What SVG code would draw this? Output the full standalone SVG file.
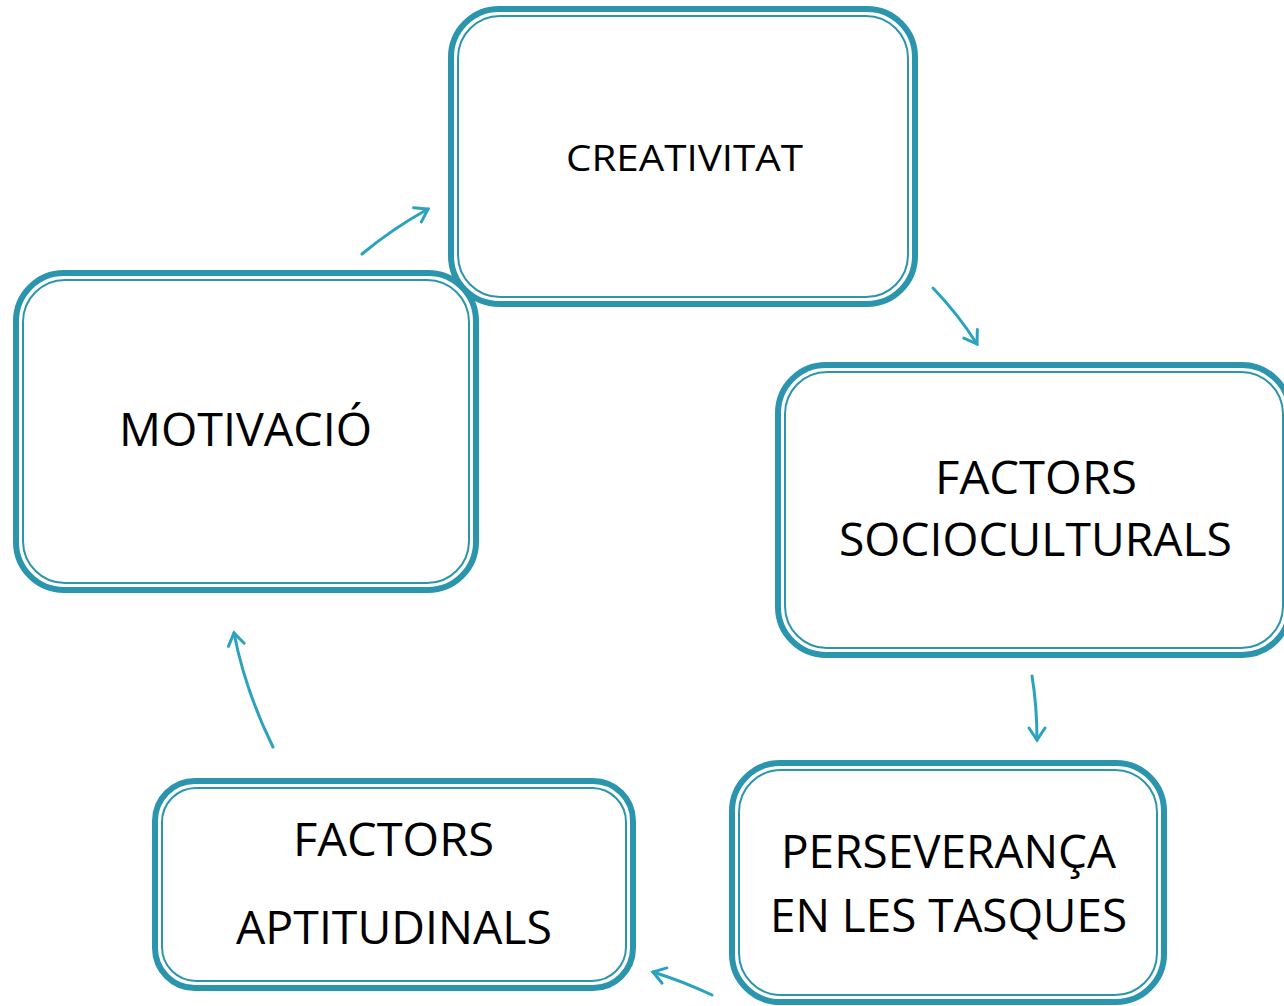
<svg xmlns="http://www.w3.org/2000/svg" width="1284" height="1006" viewBox="0 0 1284 1006">
<defs>
<style>
.outer{fill:#fff;stroke:#2b95ad;stroke-width:6}
.inner{fill:none;stroke:#2b95ad;stroke-width:2}
.lbl{font-family:"Open Sans","Noto Sans","DejaVu Sans",sans-serif;fill:#000;text-anchor:middle}
.con{fill:none;stroke:#2ba3bf;stroke-width:3;stroke-linecap:round}
</style>
<marker id="ah" markerUnits="userSpaceOnUse" markerWidth="24" markerHeight="24" refX="14" refY="9" orient="auto" viewBox="0 0 24 18">
<path d="M2,1 L14,9 L2,17" fill="none" stroke="#2ba3bf" stroke-width="3" stroke-linecap="round" stroke-linejoin="miter"/>
</marker>
</defs>
<rect width="1284" height="1006" fill="#fff"/>
<g id="creativitat">
<rect class="outer" x="451" y="9" width="464" height="295" rx="48"/>
<rect class="inner" x="458" y="16" width="450" height="281" rx="42"/>
<text class="lbl" x="684.5" y="171" font-size="37" textLength="237" lengthAdjust="spacingAndGlyphs">CREATIVITAT</text>
</g>
<g id="motivacio">
<rect class="outer" x="16" y="273" width="460" height="317" rx="48"/>
<rect class="inner" x="23" y="280" width="446" height="303" rx="42"/>
<text class="lbl" x="245.5" y="446" font-size="46" textLength="253" lengthAdjust="spacingAndGlyphs">MOTIVACIÓ</text>
</g>
<g id="socioculturals">
<rect class="outer" x="778" y="365" width="512" height="290" rx="48"/>
<rect class="inner" x="785" y="372" width="498" height="276" rx="42"/>
<text class="lbl" x="1036" y="494" font-size="46" textLength="202" lengthAdjust="spacingAndGlyphs">FACTORS</text>
<text class="lbl" x="1035.5" y="556" font-size="46" textLength="393" lengthAdjust="spacingAndGlyphs">SOCIOCULTURALS</text>
</g>
<g id="perseveranca">
<rect class="outer" x="732" y="763" width="432" height="239" rx="48"/>
<rect class="inner" x="739" y="770" width="418" height="225" rx="42"/>
<text class="lbl" x="948.5" y="868" font-size="46" textLength="335" lengthAdjust="spacingAndGlyphs">PERSEVERANÇA</text>
<text class="lbl" x="948.5" y="932" font-size="46" textLength="357" lengthAdjust="spacingAndGlyphs">EN LES TASQUES</text>
</g>
<g id="aptitudinals">
<rect class="outer" x="155" y="781" width="478" height="207" rx="40"/>
<rect class="inner" x="162" y="788" width="464" height="193" rx="34"/>
<text class="lbl" x="393.5" y="856" font-size="46" textLength="201" lengthAdjust="spacingAndGlyphs">FACTORS</text>
<text class="lbl" x="394" y="944" font-size="46" textLength="316" lengthAdjust="spacingAndGlyphs">APTITUDINALS</text>
</g>
<g id="connectors">
<path class="con" d="M362,254 Q392,229 428,209" marker-end="url(#ah)"/>
<path class="con" d="M933,288 Q958,314 977,344" marker-end="url(#ah)"/>
<path class="con" d="M1032,676 Q1037,706 1037,740" marker-end="url(#ah)"/>
<path class="con" d="M712,995 Q682,981 653,972" marker-end="url(#ah)"/>
<path class="con" d="M273,747 Q245,690 234,633" marker-end="url(#ah)"/>
</g>
</svg>
